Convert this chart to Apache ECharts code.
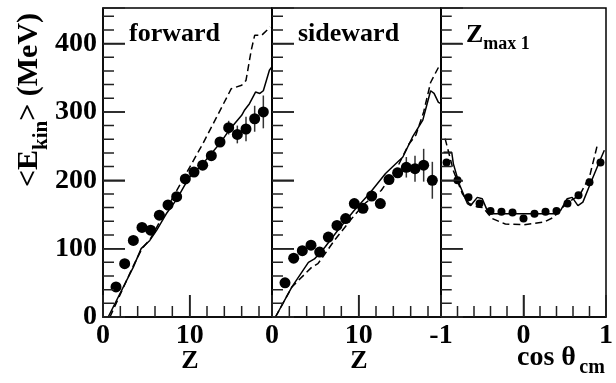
<!DOCTYPE html>
<html>
<head>
<meta charset="utf-8">
<script src="https://cdn.jsdelivr.net/npm/echarts@6/dist/echarts.min.js"></script>
<style>
  html, body { margin: 0; padding: 0; background: #fff; }
  #chart { width: 616px; height: 383px; }
</style>
</head>
<body>
<div id="chart"></div>
<script>
// --- values ---
const binZ = [1.5, 2.5, 3.5, 4.5, 5.5, 6.5, 7.5, 8.5, 9.5, 10.5, 11.5, 12.5, 13.5, 14.5, 15.5, 16.5, 17.5, 18.5]

// forward
const fwdE   = [44, 78, 112, 131, 127, 149, 164, 176, 202, 212, 222, 236, 256, 277, 267, 275, 290, 300]
const fwdErr = [0, 0, 0, 0, 0, 0, 0, 0, 0, 0, 0, 2, 3, 10, 13, 18, 19, 24]
const fwdSolid = [[0.6, 0], [3.5, 73], [4.4, 100], [5.4, 112], [6.2, 127], [7.3, 151], [8.5, 172], [9.4, 192], [10, 205],
  [11.5, 224], [13.5, 254], [14.6, 274], [15.2, 283], [16, 295], [16.3, 302], [16.9, 312], [17.6, 329], [18.1, 327],
  [18.5, 331], [19.2, 361], [19.5, 366]]
const fwdDash = [[0.8, 0], [3.5, 75], [4.5, 100], [5.5, 115], [7, 150], [8.5, 185], [10, 219], [11.5, 253], [13.5, 302],
  [14.8, 334], [16, 339], [16.5, 346], [17.1, 390], [17.5, 412], [18.3, 412], [19.3, 424]]

// sideward
const sideE   = [50, 86, 97, 105, 95, 117, 134, 144, 166, 159, 177, 166, 201, 211, 219, 217, 222, 200]
const sideErr = [0, 0, 0, 0, 0, 0, 0, 0, 0, 0, 0, 0, 0, 7, 15, 19, 24, 27]
const sideSolid = [[0.4, 0], [2.3, 44], [4.2, 80], [4.9, 85], [6.1, 102], [7.6, 127], [9.5, 156], [11.2, 180], [13.1, 210],
  [15.1, 234], [16.2, 263], [17.4, 288], [17.9, 312], [18.3, 331], [18.7, 327], [19.2, 314], [19.5, 312]]
const sideDash = [[0.4, 0], [2.3, 44], [4.6, 73], [5.3, 78], [7.2, 112], [9.2, 144], [10.7, 166], [12.6, 185], [14.5, 220],
  [15.8, 253], [16.6, 266], [17.5, 300], [18.3, 343], [18.7, 353], [19.2, 365]]

// Zmax 1, angular
const cosBins = [-0.933, -0.8, -0.667, -0.533, -0.4, -0.267, -0.133, 0, 0.133, 0.267, 0.4, 0.533, 0.667, 0.8, 0.933]
const cosE    = [226, 200, 175, 166, 155, 154, 153, 144, 151, 154, 155, 166, 178, 197, 226]
const cosSolid = [[-0.97, 241], [-0.87, 241], [-0.85, 224], [-0.78, 195], [-0.68, 166], [-0.64, 163], [-0.56, 175],
  [-0.5, 173], [-0.44, 156], [-0.38, 151], [0.39, 151], [0.45, 156], [0.53, 173], [0.59, 175], [0.66, 163],
  [0.72, 168], [0.8, 192], [0.92, 227], [0.98, 244]]
const cosDash = [[-0.95, 261], [-0.85, 214], [-0.74, 180], [-0.66, 166], [-0.56, 161], [-0.49, 160], [-0.38, 144],
  [-0.22, 136], [0.01, 135], [0.25, 139], [0.37, 146], [0.45, 158], [0.57, 170], [0.68, 178], [0.8, 205], [0.9, 254]]

// tick positions
const zMajor = [0, 10]
const zMinor = [2, 4, 6, 8, 12, 14, 16, 18]
const cosMajor = [-1, 0, 1]
const cosMinor = [-0.8, -0.6, -0.4, -0.2, 0.2, 0.4, 0.6, 0.8]
const eMajor = [0, 100, 200, 300, 400]
const eMinor = [20, 40, 60, 80, 120, 140, 160, 180, 220, 240, 260, 280, 320, 340, 360, 380, 420, 440]

const yMax = 452
const serif = '"Liberation Serif", "DejaVu Serif", serif'
const gridW = 169
const gridH = 309

const chart = echarts.init(document.getElementById('chart'), null, { renderer: 'canvas' })

const panels = [
  { left: 103, min: 0, max: 19.5, major: 10, xMajor: zMajor, xMinor: zMinor, yLabels: true },
  { left: 272, min: 0, max: 19.5, major: 10, xMajor: zMajor, xMinor: zMinor, yLabels: false },
  { left: 441, min: -1, max: 1, major: 1, xMajor: cosMajor, xMinor: cosMinor, yLabels: false }
]

const labelFont = { color: '#000', fontFamily: serif, fontWeight: 'bold', fontSize: 28 }
const tickLine = { color: '#222', width: 1.5 }

const grids = panels.map(p => ({
  left: p.left, top: 8, width: gridW, height: gridH, show: true,
  backgroundColor: 'transparent', borderColor: '#000', borderWidth: 1.5
}))
const xAxes = panels.map((p, g) => ({
  type: 'value', gridIndex: g, position: 'bottom', min: p.min, max: p.max, interval: p.major,
  axisLine: { show: true, onZero: false, lineStyle: { color: '#000', width: 1.5 } },
  axisTick: { show: true, inside: true, length: 22, lineStyle: tickLine },
  axisLabel: {
    ...labelFont, margin: 5, showMinLabel: true, showMaxLabel: true,
    formatter: v => (p.xMajor.includes(v) ? String(v) : '')
  },
  splitLine: { show: false }
}))
const yAxes = panels.map((p, g) => ({
  type: 'value', gridIndex: g, position: 'left', min: 0, max: yMax, interval: 100,
  axisLine: { show: true, onZero: false, lineStyle: { color: '#000', width: 1.5 } },
  axisTick: { show: true, inside: true, length: 22, lineStyle: tickLine },
  axisLabel: { show: p.yLabels, ...labelFont, margin: 6, formatter: v => (eMajor.includes(v) ? String(v) : '') },
  splitLine: { show: false }
}))

const lineSeries = (g, data, dashed) => ({
  type: 'line', xAxisIndex: g, yAxisIndex: g, data, symbol: 'none', silent: true,
  lineStyle: { color: '#000', width: 1.5, type: dashed ? [7, 4] : 'solid' }, z: 3
})
const dotSeries = (g, xs, ys, size) => ({
  type: 'scatter', xAxisIndex: g, yAxisIndex: g, symbolSize: size,
  itemStyle: { color: '#000', opacity: 1 }, data: xs.map((x, i) => [x, ys[i]]), z: 5
})
const errSeries = (g, xs, ys, errs) => ({
  type: 'custom', xAxisIndex: g, yAxisIndex: g, z: 4,
  data: xs.map((x, i) => [x, ys[i], errs[i]]).filter(d => d[2] > 0),
  renderItem: (params, api) => {
    const lo = api.coord([api.value(0), api.value(1) - api.value(2)])
    const hi = api.coord([api.value(0), api.value(1) + api.value(2)])
    return { type: 'line', shape: { x1: lo[0], y1: lo[1], x2: hi[0], y2: hi[1] }, style: { stroke: '#333', lineWidth: 1.5 } }
  }
})

// inner ROOT-style ticks (long major, short minor) as short line series on each panel's axes
const tickSeries = []
panels.forEach((p, g) => {
  const perPxX = (p.max - p.min) / gridW
  const perPxY = yMax / gridH
  const addTick = (a, b) => tickSeries.push({
    type: 'line', xAxisIndex: g, yAxisIndex: g, data: [a, b], symbol: 'none', silent: true, z: 6,
    lineStyle: { color: '#222', width: 1.5 }
  })
  p.xMajor.concat(p.xMinor).forEach(v => {
    const len = p.xMajor.includes(v) ? 22 : 11
    addTick([v, 0], [v, len * perPxY])
  })
  eMajor.concat(eMinor).forEach(v => {
    const len = eMajor.includes(v) ? 22 : 11
    addTick([p.min, v], [p.min + len * perPxX, v])
  })
})

chart.setOption({
  animation: false,
  backgroundColor: '#fff',
  grid: grids,
  xAxis: xAxes,
  yAxis: yAxes,
  series: [
    lineSeries(0, fwdSolid, false), lineSeries(0, fwdDash, true),
    errSeries(0, binZ, fwdE, fwdErr), dotSeries(0, binZ, fwdE, 11),
    lineSeries(1, sideSolid, false), lineSeries(1, sideDash, true),
    errSeries(1, binZ, sideE, sideErr), dotSeries(1, binZ, sideE, 11),
    lineSeries(2, cosSolid, false), lineSeries(2, cosDash, true),
    dotSeries(2, cosBins, cosE, 8),
    ...tickSeries
  ],
  graphic: [
    { type: 'text', left: 129, top: 21, style: { text: 'forward', font: 'bold 26px ' + serif, fill: '#000' } },
    { type: 'text', left: 298, top: 21, style: { text: 'sideward', font: 'bold 26px ' + serif, fill: '#000' } },
    {
      type: 'text', left: 466, top: 22,
      style: {
        text: '{a|Z}{b|max 1}', fill: '#000',
        rich: {
          a: { fontFamily: serif, fontWeight: 'bold', fontSize: 26, lineHeight: 36 },
          b: { fontFamily: serif, fontWeight: 'bold', fontSize: 18, lineHeight: 18, verticalAlign: 'bottom' }
        }
      }
    },
    { type: 'text', x: 190, y: 361, style: { text: 'Z', font: 'bold 26px ' + serif, fill: '#000', align: 'center', verticalAlign: 'middle' } },
    { type: 'text', x: 359, y: 361, style: { text: 'Z', font: 'bold 26px ' + serif, fill: '#000', align: 'center', verticalAlign: 'middle' } },
    {
      type: 'text', x: 517, y: 338,
      style: {
        text: '{a|cos θ} {b|cm}', fill: '#000',
        rich: {
          a: { fontFamily: serif, fontWeight: 'bold', fontSize: 28, lineHeight: 40 },
          b: { fontFamily: serif, fontWeight: 'bold', fontSize: 20, lineHeight: 20, verticalAlign: 'bottom' }
        }
      }
    },
    {
      type: 'text', x: 29, y: 100, rotation: Math.PI / 2,
      style: {
        text: '{a|<E}{b|kin}{a|> (MeV)}', fill: '#000', align: 'center', verticalAlign: 'middle',
        rich: {
          a: { fontFamily: serif, fontWeight: 'bold', fontSize: 30, lineHeight: 46 },
          b: { fontFamily: serif, fontWeight: 'bold', fontSize: 21, lineHeight: 18, verticalAlign: 'bottom' }
        }
      }
    }
  ]
})
</script>
</body>
</html>
